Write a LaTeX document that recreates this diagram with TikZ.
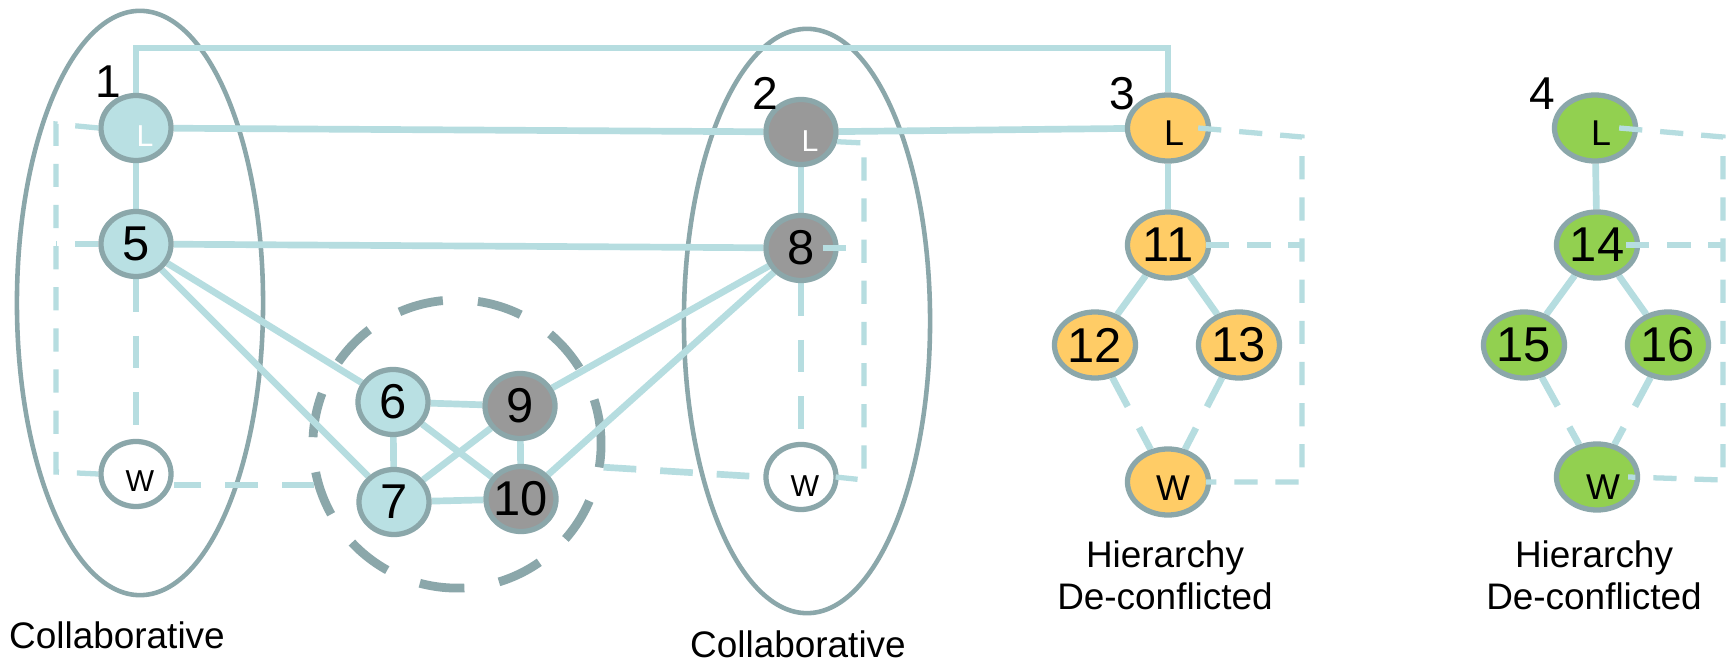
\documentclass[tikz,border=0pt]{standalone}
\usepackage{fontspec}
\setmainfont{Liberation Sans}
\usetikzlibrary{shapes.geometric}
\pgfdeclarelayer{back}
\pgfdeclarelayer{mid}
\pgfsetlayers{back,mid,main}
\definecolor{nodeblue}{HTML}{B9E0E3}
\definecolor{linkblue}{HTML}{B6DDE0}
\definecolor{rim}{HTML}{8BA7AA}
\definecolor{nodegray}{HTML}{999999}
\definecolor{nodeorange}{HTML}{FFCC66}
\definecolor{nodegreen}{HTML}{92D050}
\newcommand\fnum{\fontsize{13.9}{16}\selectfont}
\newcommand\fgrp{\fontsize{13.1}{15}\selectfont}
\newcommand\fcap{\fontsize{10.5}{12.2}\selectfont}
\newcommand\fsmall{\fontsize{8.6}{10}\selectfont}
\newcommand\fmid{\fontsize{10.2}{12}\selectfont}
\newcommand\numtxt[1]{\makebox[0pt]{#1}}
\tikzset{
  cnode/.style={ellipse, draw=rim, line width=1.5pt, minimum width=0.70cm,
    minimum height=0.65cm, inner sep=0pt, font=\fnum},
  hnode/.style={cnode, minimum width=0.81cm, minimum height=0.66cm},
  bluefill/.style={fill=nodeblue},
  grayfill/.style={fill=nodegray},
  orangefill/.style={fill=nodeorange},
  greenfill/.style={fill=nodegreen},
  whitefill/.style={fill=white},
  bigell/.style={ellipse, draw=rim, line width=1.3pt, inner sep=0pt,
    minimum width=2.46cm, minimum height=5.84cm},
  ring/.style={circle, draw=rim, line width=2.5pt, inner sep=0pt,
    minimum size=2.88cm, dash pattern=on 12.8pt off 10pt},
  link/.style={draw=linkblue, line width=1.9pt},
  ldash/.style={draw=linkblue, line width=1.9pt, dash pattern=on 9.3pt off 6.8pt},
  sdash/.style={draw=linkblue, line width=1.5pt, dash pattern=on 6.6pt off 5.1pt},
  grouptag/.style={font=\fgrp},
  caption/.style={font=\fcap, anchor=base, align=center},
}
\begin{document}
\begin{tikzpicture}[x=0.01cm, y=-0.01cm]
\useasboundingbox (0,0) rectangle (1732,664);

% group outlines
\begin{pgfonlayer}{back}
  \fill[white] (0,0) rectangle (1732,664);
  \node[bigell] (grp1) at (140,303) {};
  \node[bigell] (grp2) at (807,321) {};
  \node[ring] (ring) at (457,444) {};
\end{pgfonlayer}

% group 1 (collaborative)
\node[cnode, bluefill, label={[font=\fsmall, text=white, shift={(0.09cm,-0.08cm)}]center:L}] (n1L) at (136,128) {};
\node[cnode, bluefill] (n5) at (136,244) {\numtxt{5}};
\node[cnode, whitefill, label={[font=\fsmall, shift={(0.04cm,-0.07cm)}]center:W}] (W1) at (136,474) {};

% group 2 (collaborative)
\node[cnode, grayfill, label={[font=\fsmall, text=white, shift={(0.09cm,-0.09cm)}]center:L}] (n2L) at (801,132) {};
\node[cnode, grayfill] (n8) at (801,248) {\numtxt{8}};
\node[cnode, whitefill, label={[font=\fsmall, shift={(0.04cm,-0.09cm)}]center:W}] (W2) at (801,477) {};

% shared cluster
\node[cnode, bluefill] (n6) at (393,402) {\numtxt{6}};
\node[cnode, bluefill] (n7) at (394,502) {\numtxt{7}};
\node[cnode, grayfill] (n9) at (520,406) {\numtxt{9}};
\node[cnode, grayfill] (n10) at (521,499) {\numtxt{10}};

% group 3 (hierarchy)
\node[hnode, orangefill, label={[font=\fmid, shift={(0.06cm,-0.05cm)}]center:L}] (n3L) at (1168,128) {};
\node[hnode, orangefill] (n11) at (1168,245) {\numtxt{11}};
\node[hnode, orangefill] (n12) at (1095,345) {\numtxt{12}};
\node[hnode, orangefill] (n13) at (1239,345) {\numtxt{13}};
\node[hnode, orangefill, label={[font=\fmid, shift={(0.05cm,-0.06cm)}]center:W}] (W3) at (1168,482) {};

% group 4 (hierarchy)
\node[hnode, greenfill, label={[font=\fmid, shift={(0.06cm,-0.05cm)}]center:L}] (n4L) at (1595,128) {};
\node[hnode, greenfill] (n14) at (1597,245) {\numtxt{14}};
\node[hnode, greenfill] (n15) at (1524,345) {\numtxt{15}};
\node[hnode, greenfill] (n16) at (1668,345) {\numtxt{16}};
\node[hnode, greenfill, label={[font=\fmid, shift={(0.06cm,-0.10cm)}]center:W}] (W4) at (1597,477) {};

% group numbers and captions (two-line captions sit on their last baseline)
\node[grouptag] (t1) at (108,82) {1};
\node[grouptag] (t2) at (765,93) {2};
\node[grouptag] (t3) at (1122,94) {3};
\node[grouptag] (t4) at (1542,94) {4};
\node[caption] (c1) at (117,649) {Collaborative};
\node[caption] (c2) at (798,657) {Collaborative};
\node[caption] (h3) at (1165,610) {Hierarchy\\De-conflicted};
\node[caption] (h4) at (1594,610) {Hierarchy\\De-conflicted};

% corner points of the dashed side links
\coordinate (topbar) at (650,48);
\coordinate (r1) at (56,124);
\coordinate (r1b) at (56,472);
\coordinate (r2) at (864,143);
\coordinate (r2b) at (864,480);
\coordinate (r3) at (1302,137);
\coordinate (r3b) at (1302,482);
\coordinate (r4) at (1723,137);
\coordinate (r4b) at (1723,480);

% solid and dashed links between agents
\begin{pgfonlayer}{mid}
  \draw[link] (n1L.north) |- (topbar) -| (n3L.north);
  \draw[link] (n1L) -- (n2L);
  \draw[link] (n2L) -- (n3L);
  \draw[link] (n1L) -- (n5);
  \draw[link] (n2L) -- (n8);
  \draw[link] (n5) -- (n8);
  \draw[link] (n5) -- (n6);
  \draw[link] (n5) -- (n7);
  \draw[link] (n8) -- (n9);
  \draw[link] (n8) -- (n10);
  \draw[link] (n6) -- (n9);
  \draw[link] (n6) -- (n7);
  \draw[link] (n9) -- (n10);
  \draw[link] (n7) -- (n10);
  \draw[link] (n6) -- (n10);
  \draw[link] (n7) -- (n9);
  \draw[link] (n3L) -- (n11);
  \draw[link] (n11) -- (n12);
  \draw[link] (n11) -- (n13);
  \draw[link] (n4L) -- (n14);
  \draw[link] (n14) -- (n15);
  \draw[link] (n14) -- (n16);
  \draw[ldash] (n5) -- (W1);
  \draw[ldash] (n8) -- (W2);
  \draw[ldash] (n12) -- (W3);
  \draw[ldash] (n13) -- (W3);
  \draw[ldash] (n15) -- (W4);
  \draw[ldash] (n16) -- (W4);
  \draw[ldash] (ring.196) -- (ring.196 -| W1.east);
  \draw[ldash] (ring.-9) -- (W2.west);
\end{pgfonlayer}

% dashed side links
\draw[sdash] (n1L.west) -- (r1) -- (r1b) -- (W1.west);
\draw[sdash] (n5.west) -- (n5.west -| r1);
\draw[sdash] (n2L.-15) -- (r2) -- (r2b) -- ([xshift=-0.03cm]W2.east);
\draw[sdash] ([xshift=-0.16cm]n8.east) -- (n8.east -| r2);
\draw[sdash] ([xshift=-0.13cm]n3L.east) -- (r3) -- (r3b) -- ([xshift=-0.05cm]W3.east);
\draw[sdash] ([xshift=-0.05cm]n11.east) -- (n11.east -| r3);
\draw[sdash] ([xshift=-0.19cm]n4L.east) -- (r4) -- (r4b) -- ([xshift=-0.12cm]W4.east);
\draw[sdash] ([xshift=-0.14cm]n14.east) -- (n14.east -| r4);
\end{tikzpicture}
\end{document}
